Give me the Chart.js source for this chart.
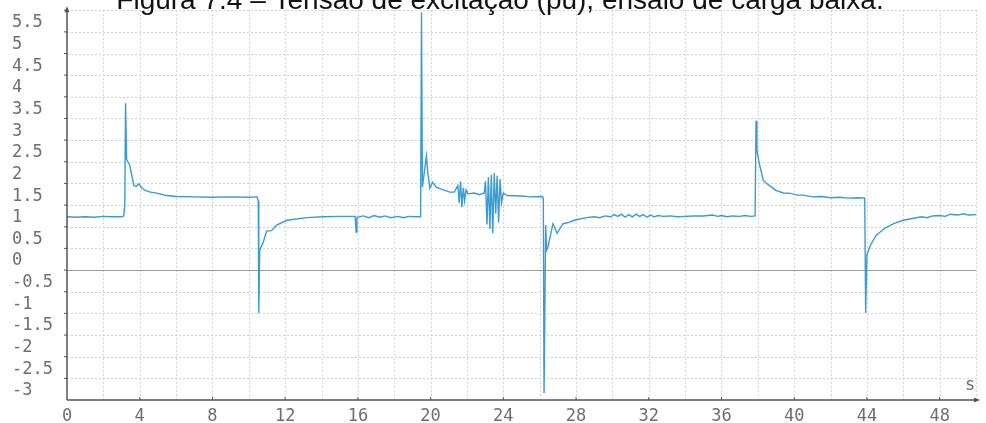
<!DOCTYPE html>
<html>
<head>
<meta charset="utf-8">
<script src="https://cdn.jsdelivr.net/npm/chart.js@4.4.1/dist/chart.umd.min.js"></script>
<style>
  html, body { margin: 0; padding: 0; background: #ffffff; }
  canvas { display: block; }
</style>
</head>
<body>
<canvas id="c" width="986" height="423"></canvas>
<script>
// Excitation voltage (pu) recorded during the low-load test
const titleText = 'Figura 7.4 – Tensão de excitação (pu), ensaio de carga baixa.';
const unitLabel = 's';

// time (s) — one row per stretch of the record
const times = [
  0.0, 0.5, 1.0, 1.5, 2.0, 2.5, 3.0, 3.12, 3.18, 3.22, 3.28, 3.45, 3.68, 3.8, 3.95, 4.1, 4.3, 4.6,
  5.0, 5.5, 6.0, 7.0, 8.0, 9.0, 10.0, 10.45, 10.52, 10.55, 10.6, 10.8, 10.98, 11.25, 11.53, 12.1,
  13.2, 14.1, 15.0, 15.85, 15.9, 15.95, 16.3, 16.6, 16.9, 17.2, 17.5, 17.8, 18.2, 18.5, 18.8, 19.2,
  19.45, 19.5, 19.55, 19.7, 19.77, 19.85, 19.96, 20.1, 20.3, 20.5, 20.8, 21.05, 21.3, 21.5, 21.57,
  21.65, 21.72, 21.8, 21.87, 21.95, 22.05, 22.4, 22.7, 22.95, 23.02, 23.1, 23.18, 23.26, 23.34,
  23.42, 23.5, 23.58, 23.66, 23.74, 23.82, 23.9, 24.0, 24.2, 25.0, 25.5, 26.15, 26.2, 26.24, 26.33,
  26.38, 26.46, 26.73, 26.96, 27.28, 27.6, 27.9, 28.57, 29.0, 29.3, 29.6, 29.9, 30.1, 30.3, 30.5,
  30.7, 30.9, 31.1, 31.3, 31.5, 31.7, 31.9, 32.1, 32.3, 32.5, 32.8, 33.15, 33.6, 34.0, 34.5, 35.0,
  35.5, 35.8, 36.0, 36.3, 36.6, 37.0, 37.3, 37.6, 37.85, 37.9, 37.95, 38.1, 38.3, 38.6,
  39.0, 39.4, 39.8, 40.2, 40.5, 41.0, 41.5, 42.0, 42.5, 43.0, 43.5, 43.88,
  43.93, 44.0, 44.2, 44.5, 45.0, 45.5, 46.0, 46.5, 47.0, 47.3, 47.6, 48.0, 48.3, 48.6, 49.0,
  49.3, 49.6, 50.0
];

// excitation voltage (pu), same rows as above
const voltage = [
  1.23, 1.22, 1.23, 1.22, 1.24, 1.23, 1.23, 1.25, 1.50, 3.85, 2.55, 2.42, 1.95, 1.93, 1.99, 1.90, 1.84, 1.80,
  1.77, 1.72, 1.70, 1.69, 1.68, 1.69, 1.68, 1.69, 1.60, -0.99, 0.46, 0.65, 0.90, 0.91, 1.04, 1.15,
  1.21, 1.23, 1.24, 1.24, 0.88, 1.22, 1.25, 1.21, 1.26, 1.22, 1.25, 1.21, 1.24, 1.21, 1.24, 1.23,
  1.23, 5.95, 1.92, 2.40, 2.63, 2.23, 1.89, 2.03, 1.92, 1.88, 1.84, 1.80, 1.80, 1.95, 1.55,
  2.05, 1.45, 1.90, 1.60, 1.85, 1.76, 1.78, 1.74, 1.78, 2.05, 1.05, 2.15, 0.95, 2.20,
  0.85, 2.24, 1.30, 2.18, 1.10, 2.10, 1.55, 1.78, 1.72, 1.71, 1.69, 1.70, 1.65, -2.84, 1.04,
  0.46, 0.54, 1.07, 0.85, 1.07, 1.10, 1.15, 1.21, 1.23, 1.21, 1.25, 1.23, 1.28, 1.24, 1.29,
  1.22, 1.28, 1.23, 1.29, 1.24, 1.28, 1.22, 1.27, 1.23, 1.26, 1.24, 1.25, 1.23, 1.24, 1.25, 1.25,
  1.27, 1.24, 1.26, 1.23, 1.25, 1.24, 1.26, 1.24, 1.25, 3.45, 2.76, 2.42, 2.07, 1.96,
  1.84, 1.78, 1.77, 1.73, 1.73, 1.69, 1.70, 1.67, 1.68, 1.66, 1.67, 1.66,
  -0.99, 0.35, 0.58, 0.80, 0.97, 1.08, 1.15, 1.19, 1.23, 1.21, 1.25, 1.26, 1.24, 1.29, 1.27,
  1.30, 1.27, 1.28
];

// axis ranges and tick spacing
const xRange = [0, 50];
const yRange = [-3, 6];
const xGridStep = 2;
const xLabelStep = 4;
const yStep = 0.5;

const labelFont = { family: '"DejaVu Sans Mono", "Liberation Mono", monospace', size: 17 };
const labelColor = '#6e6e6e';
const axisColor = '#555555';

const points = times.map((t, i) => ({ x: t, y: voltage[i] }));

function strokeLine(ctx, x1, y1, x2, y2) {
  ctx.beginPath();
  ctx.moveTo(x1, y1);
  ctx.lineTo(x2, y2);
  ctx.stroke();
}

const decor = {
  id: 'decor',
  beforeDatasetsDraw(chart) {
    const { ctx, chartArea: a, scales: { x, y } } = chart;
    ctx.save();
    ctx.lineWidth = 1;
    ctx.strokeStyle = '#d3d3d3';
    ctx.setLineDash([2, 2]);
    for (let v = xRange[0] + xGridStep; v <= xRange[1]; v += xGridStep) {
      const px = Math.round(x.getPixelForValue(v)) + 0.5;
      strokeLine(ctx, px, a.top, px, a.bottom);
    }
    for (let v = yRange[0] + yStep; v <= yRange[1] + 1e-9; v += yStep) {
      if (Math.abs(v) < 1e-9) continue;
      const py = Math.round(y.getPixelForValue(v)) + 0.5;
      strokeLine(ctx, a.left, py, a.right, py);
    }
    ctx.setLineDash([]);
    ctx.strokeStyle = '#9c9c9c';
    const y0 = Math.round(y.getPixelForValue(0)) + 0.5;
    strokeLine(ctx, a.left, y0, a.right, y0);
    ctx.restore();
  },
  afterDatasetsDraw(chart) {
    const { ctx, chartArea: a, scales: { x, y } } = chart;
    ctx.save();
    ctx.strokeStyle = axisColor;
    ctx.fillStyle = axisColor;
    ctx.lineWidth = 1.5;
    const ax = x.getPixelForValue(xRange[0]);
    const ay = y.getPixelForValue(yRange[0]);
    // axes
    strokeLine(ctx, ax, ay, ax, a.top - 2);
    strokeLine(ctx, ax, ay, a.right + 2, ay);
    // arrow heads
    ctx.beginPath();
    ctx.moveTo(ax, a.top - 4); ctx.lineTo(ax - 2.5, a.top + 2); ctx.lineTo(ax + 2.5, a.top + 2); ctx.closePath();
    ctx.fill();
    ctx.beginPath();
    ctx.moveTo(a.right + 4, ay); ctx.lineTo(a.right - 2, ay - 2.5); ctx.lineTo(a.right - 2, ay + 2.5); ctx.closePath();
    ctx.fill();
    // small tick marks
    ctx.lineWidth = 1;
    for (let v = xRange[0] + xLabelStep; v < xRange[1]; v += xLabelStep) {
      const px = x.getPixelForValue(v);
      strokeLine(ctx, px, ay, px, ay - 3);
    }
    for (let v = yRange[0] + yStep; v < yRange[1] + 1e-9; v += yStep) {
      const py = y.getPixelForValue(v);
      strokeLine(ctx, ax, py, ax - 3, py);
    }
    // unit of the time axis
    ctx.font = `${labelFont.size}px ${labelFont.family}`;
    ctx.fillStyle = labelColor;
    ctx.textAlign = 'center';
    ctx.textBaseline = 'middle';
    ctx.fillText(unitLabel, a.right - 6, ay - 14);
    // caption
    ctx.font = '28px "Liberation Sans", Arial, sans-serif';
    ctx.fillStyle = '#111111';
    ctx.textAlign = 'center';
    ctx.textBaseline = 'alphabetic';
    ctx.fillText(titleText, 500, 9);
    ctx.restore();
  }
};

new Chart(document.getElementById('c'), {
  type: 'line',
  data: {
    datasets: [{
      data: points,
      borderColor: '#3a9ad3',
      borderWidth: 1.4,
      pointRadius: 0,
      tension: 0,
      fill: false
    }]
  },
  options: {
    responsive: false,
    animation: false,
    layout: { padding: { left: 12, right: 10, top: 10, bottom: 0 } },
    plugins: { legend: { display: false }, tooltip: { enabled: false }, title: { display: false } },
    scales: {
      x: {
        type: 'linear',
        min: xRange[0],
        max: xRange[1],
        afterFit(scale) { scale.height = 23; },
        grid: { display: false, drawTicks: false },
        border: { display: false },
        ticks: {
          stepSize: xGridStep,
          autoSkip: false,
          maxRotation: 0,
          padding: 6,
          font: labelFont,
          color: labelColor,
          callback: v => (v % xLabelStep === 0 && v < xRange[1]) ? String(v) : ''
        }
      },
      y: {
        type: 'linear',
        min: yRange[0],
        max: yRange[1],
        afterFit(scale) { scale.width = 55; },
        grid: { display: false, drawTicks: false },
        border: { display: false },
        ticks: {
          stepSize: yStep,
          autoSkip: false,
          crossAlign: 'far',
          labelOffset: -9,
          padding: 0,
          font: labelFont,
          color: labelColor,
          callback: v => (v >= yRange[1]) ? '' : String(v)
        }
      }
    }
  },
  plugins: [decor]
});
</script>
</body>
</html>
